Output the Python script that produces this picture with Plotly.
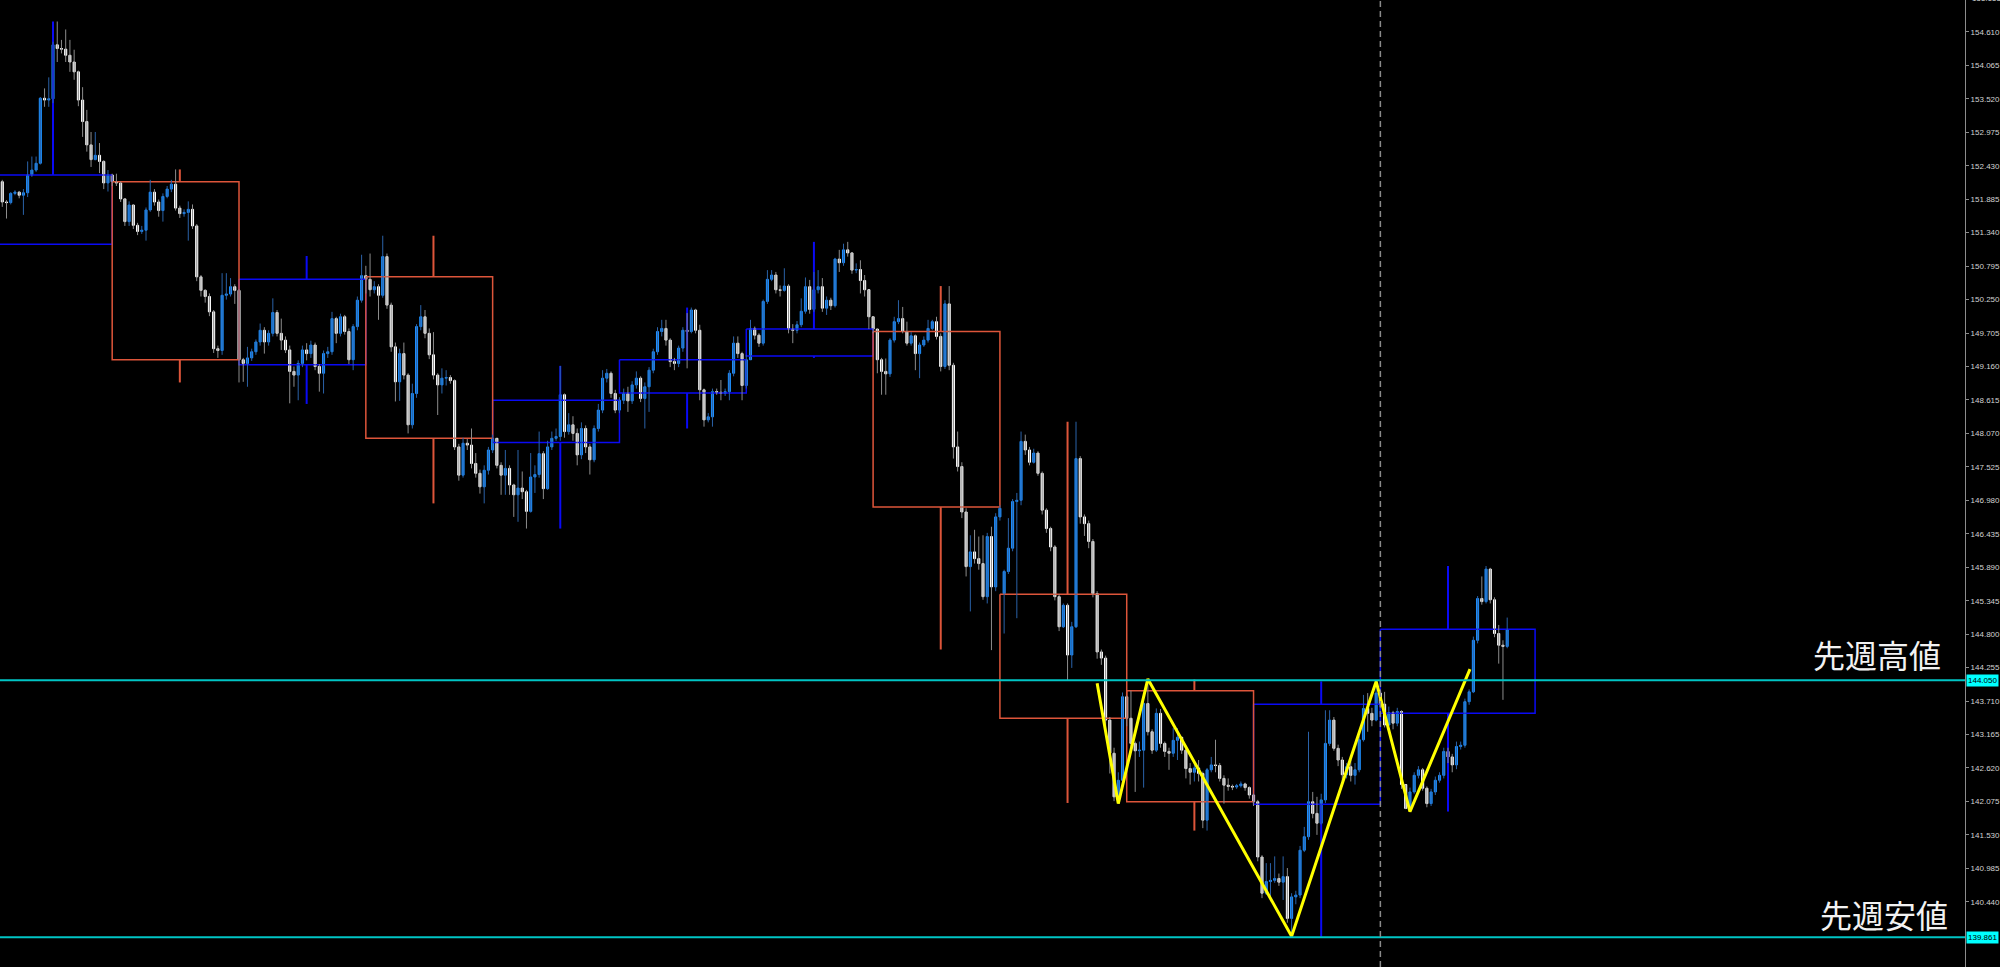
import plotly.graph_objects as go

# ---------------- data (4H bars, index = bar number) ----------------
FIRST_BAR = 2
FIRST_OPEN = 152.25

closes = [
    # week 0
    152.17,151.84,151.83,151.98,152.00,151.95,151.99,152.28,152.36,152.47,153.53,153.50,153.52,154.40,154.34,154.33,154.23,154.12,153.96,153.50,153.15,152.77,152.53,152.60,152.50,152.15,152.28,152.17,
    # week 1
    152.15,151.89,151.52,151.79,151.46,151.36,151.38,151.71,152.00,151.84,151.70,151.93,152.05,152.13,151.74,151.65,151.67,151.72,151.45,150.62,150.40,150.30,150.05,149.45,149.42,150.32,150.34,150.46,150.40,149.27,
    # week 2
    149.21,149.30,149.40,149.56,149.75,149.56,149.70,150.04,149.70,149.59,149.43,149.08,149.02,149.21,149.43,149.37,149.51,149.16,149.05,149.37,149.40,149.94,149.70,149.97,149.73,149.27,149.81,150.24,150.64,150.58,
    # week 3
    150.41,150.46,150.32,150.95,150.16,149.48,148.91,149.37,149.02,148.21,148.72,149.81,149.97,149.70,149.35,149.02,148.86,148.97,148.98,148.93,147.85,147.39,147.91,147.88,147.58,147.42,147.20,147.47,147.80,147.99,
    # week 4
    147.55,147.39,147.50,147.23,147.07,147.18,147.12,146.80,147.36,147.40,147.74,147.17,147.85,147.99,148.02,148.70,148.10,148.21,148.07,147.72,148.15,147.85,147.64,148.15,148.45,148.97,149.05,148.72,148.45,148.61,
    # week 5
    148.72,148.60,148.86,148.97,148.64,148.83,149.10,149.40,149.73,149.78,149.59,149.24,149.21,149.46,149.75,149.73,150.08,149.75,148.78,148.29,148.34,148.75,148.74,148.72,148.75,149.05,149.54,149.37,148.85,149.27,
    # week 6
    149.78,149.67,149.54,150.22,150.58,150.65,150.41,150.40,150.47,149.77,149.75,149.84,150.06,150.46,150.09,150.41,150.46,150.11,150.24,150.15,150.91,150.85,151.06,151.01,150.73,150.74,150.56,150.41,149.97,149.77,
    # week 7
    149.27,149.08,149.04,149.59,149.89,149.94,149.73,149.54,149.66,149.37,149.51,149.59,149.78,149.89,149.65,149.16,150.18,149.18,147.85,147.53,146.79,145.90,146.14,146.03,145.95,145.41,146.39,145.57,146.71,146.85,
    # week 8
    145.82,146.20,146.96,146.98,147.94,147.80,147.60,147.75,147.42,146.82,146.52,146.22,145.41,144.92,145.27,144.46,144.92,147.66,146.71,146.60,146.31,145.46,144.51,144.41,143.40,142.86,142.15,142.42,143.78,143.43,
    # week 9
    143.02,142.90,142.91,143.67,143.21,142.91,143.51,143.02,142.89,142.86,143.07,143.12,142.91,142.61,142.55,142.62,142.53,141.77,142.59,142.67,142.66,142.45,142.34,142.32,142.31,142.33,142.36,142.30,142.18,142.07,
    # week 10
    141.17,140.58,140.77,140.79,140.82,140.76,140.85,140.17,140.52,140.55,141.28,141.50,142.07,141.88,141.72,142.10,143.02,143.40,142.94,142.75,142.51,142.64,142.50,142.59,143.08,143.59,143.51,143.40,143.84,143.66,
    # week 11
    143.32,143.52,143.35,143.54,142.35,141.96,142.23,142.50,142.59,142.29,142.04,142.23,142.42,142.50,142.89,142.80,142.67,142.97,142.99,143.70,143.86,144.70,145.38,145.33,145.86,145.36,144.81,144.62,144.60,144.87,
]

highs = [
    152.30,152.20,151.87,152.00,152.03,152.02,152.05,152.50,152.58,152.58,153.55,153.69,153.87,154.45,154.78,154.48,154.65,154.48,154.32,153.98,153.71,153.34,152.98,152.98,152.80,152.52,152.36,152.30,
    152.30,152.17,151.90,151.85,151.80,151.50,151.45,151.75,152.20,152.05,151.88,151.98,152.10,152.20,152.37,151.78,151.72,151.85,151.80,151.48,150.65,150.42,150.35,150.08,149.50,150.68,150.68,150.60,150.50,150.42,
    149.30,149.48,149.45,149.60,149.86,149.80,149.75,150.27,150.08,149.94,149.65,149.50,149.16,149.26,149.50,149.54,149.58,149.55,149.20,149.42,149.48,150.05,149.97,150.02,150.00,149.78,149.85,150.30,150.98,150.80,
    151.00,150.55,150.50,151.29,151.00,150.20,149.55,149.45,149.55,149.05,148.88,149.85,150.16,150.08,149.78,149.72,149.05,149.13,149.10,149.02,148.95,147.90,148.00,147.98,148.15,147.75,147.48,147.55,147.85,148.05,
    147.95,147.60,147.80,147.55,147.25,147.80,147.45,147.15,147.75,147.55,148.10,147.78,147.95,148.10,148.15,149.17,148.72,148.40,148.35,148.15,148.25,148.20,147.90,148.20,148.55,149.10,149.12,149.08,148.78,148.66,
    148.80,148.83,148.92,149.08,149.00,148.90,149.15,149.45,149.80,149.92,149.92,149.62,149.30,149.50,149.80,150.03,150.12,150.10,149.84,148.80,148.40,148.80,148.80,148.94,148.80,149.10,149.65,149.65,149.40,149.35,
    149.92,149.81,149.70,150.25,150.73,150.73,150.70,150.48,150.76,150.50,149.85,149.90,150.27,150.61,150.57,150.70,150.73,150.60,150.30,150.28,150.93,151.06,151.16,151.19,151.02,150.84,150.89,150.65,150.40,149.98,
    149.75,149.30,149.29,149.62,149.97,150.24,150.13,149.89,149.72,149.68,149.55,149.65,149.92,149.92,149.97,149.70,150.24,150.47,149.22,148.10,147.60,146.85,146.41,146.50,146.39,146.41,146.45,146.55,146.77,146.90,
    145.85,146.69,147.00,147.10,148.10,148.05,147.85,147.82,147.78,147.45,146.85,146.55,146.25,145.45,145.30,145.30,145.00,148.26,147.70,146.75,146.65,146.35,145.50,144.55,144.45,143.45,142.95,142.55,143.85,143.80,
    143.88,143.05,143.05,143.70,144.07,143.25,143.59,143.58,143.05,142.95,143.27,143.27,143.12,142.95,142.70,142.75,142.75,142.56,142.62,142.80,143.08,142.70,142.50,142.45,142.35,142.36,142.40,142.38,142.32,142.20,
    142.10,141.20,141.07,141.07,141.18,140.90,141.18,140.99,140.58,140.62,141.35,141.66,143.21,142.23,142.15,142.20,143.56,143.56,143.45,143.00,142.80,142.70,142.75,142.70,143.15,143.81,143.84,143.60,144.03,143.90,
    143.86,143.62,143.55,143.60,143.56,142.32,142.30,142.55,142.65,142.62,142.32,142.28,142.48,142.55,142.95,142.95,142.85,143.05,143.05,143.75,143.90,144.76,145.42,145.74,145.91,145.88,145.40,144.95,144.70,145.07,
]

lows = [
    152.10,151.76,151.57,151.80,151.95,151.90,151.63,151.92,152.25,152.33,152.45,153.39,153.39,153.45,154.12,154.26,154.12,153.96,153.83,153.40,152.90,152.66,152.41,152.52,152.31,152.05,152.01,152.10,
    152.10,151.84,151.45,151.45,151.40,151.30,151.32,151.21,151.68,151.78,151.60,151.52,151.90,152.00,151.70,151.58,151.60,151.21,151.40,150.55,150.30,150.20,149.98,149.38,149.30,149.35,150.25,150.30,150.18,148.90,
    148.91,148.83,149.25,149.35,149.50,149.37,149.50,149.65,149.65,149.43,149.38,148.56,148.83,148.61,149.15,149.26,149.30,149.10,148.75,148.72,149.30,149.35,149.54,149.65,149.68,149.20,149.10,149.75,150.20,150.35,
    150.30,150.35,149.92,150.28,150.10,149.40,148.59,148.60,148.95,148.07,148.15,148.65,149.75,149.62,149.28,148.95,148.37,148.72,148.85,148.88,147.80,147.30,147.35,147.80,147.50,147.35,147.09,146.93,147.40,147.75,
    147.50,147.07,147.07,147.07,146.71,146.63,147.00,146.52,146.78,147.10,147.35,147.00,147.15,147.80,147.95,147.95,148.00,148.05,147.95,147.55,147.65,147.75,147.40,147.60,148.10,148.40,148.90,148.65,148.40,148.40,
    148.55,148.42,148.55,148.80,148.58,148.15,148.42,149.05,149.35,149.65,149.50,149.15,149.10,149.15,149.40,149.13,149.70,149.70,148.61,148.18,148.25,148.18,148.70,148.61,148.68,148.61,149.00,149.30,148.61,148.80,
    149.30,149.60,149.48,149.50,150.18,150.55,150.35,150.30,150.38,149.70,149.54,149.70,149.80,150.02,150.02,150.05,150.35,150.05,150.00,150.08,150.12,150.70,150.80,150.95,150.67,150.68,150.35,150.30,149.77,149.70,
    149.05,148.70,148.70,148.99,149.55,149.85,149.70,149.50,149.50,149.10,148.97,149.48,149.55,149.75,149.60,149.08,149.12,149.10,147.66,147.45,146.69,145.74,145.17,145.95,145.85,145.36,145.30,144.54,145.50,146.65,
    144.81,145.78,146.15,145.06,146.90,147.72,147.55,147.58,147.38,146.75,146.45,146.15,145.35,144.85,144.90,144.05,144.25,144.90,146.60,146.40,146.20,145.40,144.40,144.30,143.30,142.53,142.08,142.04,142.40,143.30,
    142.95,142.23,142.80,142.30,143.15,142.85,142.88,142.95,142.80,142.59,142.80,142.75,142.85,142.45,142.35,142.40,142.40,141.64,141.60,142.55,142.55,142.40,142.04,142.25,142.26,142.28,142.30,142.25,142.12,142.00,
    141.10,140.50,140.55,140.52,140.75,140.70,140.47,140.10,139.88,140.40,140.50,141.25,141.45,141.80,141.53,141.70,142.05,142.98,142.90,142.65,142.40,142.45,142.40,142.35,142.55,143.05,143.21,143.30,143.38,143.60,
    143.28,143.30,143.25,143.30,142.28,141.95,141.91,142.20,142.45,142.25,141.98,142.00,142.18,142.38,142.45,142.70,142.55,142.60,142.92,142.95,143.65,143.84,144.65,145.28,145.30,145.30,144.75,144.32,143.73,144.57,
]

gap_opens = {240: 145.46}   # bars whose open differs from the previous close

# weekly OHLC (weekly boxes)
week_open  = [151.15, 152.17, 149.19, 150.62, 147.92, 148.73, 149.33, 149.73, 145.45, 143.88, 142.03, 143.51]
week_close = [152.28, 149.27, 150.58, 147.99, 148.61, 149.27, 149.77, 146.87, 143.43, 142.07, 143.66, 144.88]
week_high  = [154.78, 152.37, 150.96, 151.29, 149.17, 150.12, 151.19, 150.47, 148.26, 144.06, 144.03, 145.91]
week_low   = [151.15, 148.90, 148.55, 146.93, 146.52, 148.15, 149.30, 144.55, 142.05, 141.60, 139.87, 141.91]
BARS_PER_WEEK = 30
LAST_BOX_RIGHT = 365.6

# yellow zigzag (bar index, price)
zz_x = [262, 267, 274, 308, 328, 336, 350.2]
zz_y = [144.00, 142.04, 144.07, 139.88, 144.03, 141.91, 144.23]

last_week_high = 144.050
last_week_low = 139.861
label_high = "先週高値"
label_low = "先週安値"
separator_bar = 329

tick_labels = ["155.155", "154.610", "154.065", "153.520", "152.975", "152.430", "151.885",
               "151.340", "150.795", "150.250", "149.705", "149.160", "148.615", "148.070",
               "147.525", "146.980", "146.435", "145.890", "145.345", "144.800", "144.255",
               "143.710", "143.165", "142.620", "142.075", "141.530", "140.985", "140.440"]

# ---------------- build ----------------
n = len(closes)
xs = list(range(FIRST_BAR, FIRST_BAR + n))
opens = [FIRST_OPEN] + closes[:-1]
for b, v in gap_opens.items():
    opens[b - FIRST_BAR] = v
hi = [max(h, o, c) for h, o, c in zip(highs, opens, closes)]
lo = [min(l, o, c) for l, o, c in zip(lows, opens, closes)]

BULL_BODY = "#1E90FF"
BEAR_BODY = "#FFFFFF"
BULL_WICK = "#2a62a8"
BEAR_WICK = "#8c8c8c"
BOX_BLUE = "#0A0AF5"
BOX_RED = "#DD553A"

Y_MIN, Y_MAX = 139.378, 155.13

fig = go.Figure()

# weekly boxes + weekly wicks
for color, cond in ((BOX_BLUE, True), (BOX_RED, False)):
    px, py = [], []
    wx, wy = [], []
    for k in range(len(week_open)):
        o, c = week_open[k], week_close[k]
        if (c >= o) != cond:
            continue
        x0 = BARS_PER_WEEK * k - 1
        x1 = LAST_BOX_RIGHT if k == len(week_open) - 1 else BARS_PER_WEEK * k + BARS_PER_WEEK - 1
        top, bot = max(o, c), min(o, c)
        px += [x0, x1, x1, x0, x0, None]
        py += [top, top, bot, bot, top, None]
        xm = BARS_PER_WEEK * k + 15
        wx += [xm, xm, None, xm, xm, None]
        wy += [top, week_high[k], None, bot, week_low[k], None]
    fig.add_trace(go.Scatter(x=wx, y=wy, mode="lines", line=dict(color=color, width=2),
                             hoverinfo="skip", showlegend=False))
    fig.add_trace(go.Scatter(x=px, y=py, mode="lines", line=dict(color=color, width=1.5),
                             hoverinfo="skip", showlegend=False))

# candle wicks
for color, bull in ((BULL_WICK, True), (BEAR_WICK, False)):
    wx, wy = [], []
    for x, o, c, h, l in zip(xs, opens, closes, hi, lo):
        if (c >= o) != bull:
            continue
        wx += [x, x, None]
        wy += [l, h, None]
    fig.add_trace(go.Scatter(x=wx, y=wy, mode="lines", line=dict(color=color, width=1),
                             hoverinfo="skip", showlegend=False))

# candle bodies
fig.add_trace(go.Candlestick(
    x=xs, open=opens, close=closes,
    high=[max(o, c) for o, c in zip(opens, closes)],
    low=[min(o, c) for o, c in zip(opens, closes)],
    increasing=dict(line=dict(color=BULL_BODY, width=1), fillcolor=BULL_BODY),
    decreasing=dict(line=dict(color=BEAR_BODY, width=1), fillcolor=BEAR_BODY),
    whiskerwidth=0, hoverinfo="skip", showlegend=False))

# zigzag
fig.add_trace(go.Scatter(x=zz_x, y=zz_y, mode="lines", line=dict(color="#FFFF00", width=3),
                         hoverinfo="skip", showlegend=False))

shapes = []
for lvl in (last_week_high, last_week_low):
    shapes.append(dict(type="line", xref="paper", x0=0, x1=1, yref="y", y0=lvl, y1=lvl,
                       line=dict(color="#00C4C4", width=2), layer="above"))
shapes.append(dict(type="line", xref="x", x0=separator_bar, x1=separator_bar, yref="paper", y0=0, y1=1,
                   line=dict(color="#8a8a8a", width=1.5, dash="6px,4px"), layer="above"))

PLOT_W = 1965
annotations = [
    dict(text=label_high, xref="paper", x=1943 / PLOT_W, xanchor="right", yref="y", y=last_week_high,
         yanchor="bottom", yshift=1, showarrow=False,
         font=dict(family="Noto Sans CJK JP", size=32, color="#F2F2F2")),
    dict(text=label_low, xref="paper", x=1950 / PLOT_W, xanchor="right", yref="y", y=last_week_low,
         yanchor="bottom", yshift=-2, showarrow=False,
         font=dict(family="Noto Sans CJK JP", size=32, color="#F2F2F2")),
]
for lvl in (last_week_high, last_week_low):
    annotations.append(dict(text=f"{lvl:.3f}", xref="paper", x=1, xanchor="left", xshift=1,
                            yref="y", y=lvl, yanchor="middle", showarrow=False,
                            bgcolor="#00FFFF", borderpad=1,
                            font=dict(family="Liberation Sans", size=8, color="#000000")))
# the top tick label lies just beyond the visible range and is cut by the window edge
for t in tick_labels:
    if float(t) > Y_MAX:
        annotations.append(dict(text=t, xref="paper", x=1, xanchor="left", xshift=5,
                                yref="paper", y=(float(t) - Y_MIN) / (Y_MAX - Y_MIN),
                                yanchor="middle", showarrow=False,
                                font=dict(family="Liberation Sans", size=8, color="#d2d2d2")))

fig.update_layout(
    width=2000, height=967,
    margin=dict(l=0, r=2000 - PLOT_W, t=0, b=0),
    paper_bgcolor="#000000", plot_bgcolor="#000000",
    showlegend=False, hovermode=False,
    shapes=shapes, annotations=annotations,
    xaxis=dict(range=[2.46, 467.3], visible=False, showgrid=False, zeroline=False,
               rangeslider=dict(visible=False)),
    yaxis=dict(range=[Y_MIN, Y_MAX], side="right", showgrid=False, zeroline=False,
               tickvals=[float(t) for t in tick_labels], ticktext=tick_labels,
               showline=True, linecolor="#8c8c8c", linewidth=1,
               ticks="outside", ticklen=3, tickcolor="#8c8c8c",
               tickfont=dict(family="Liberation Sans", size=8, color="#d2d2d2")),
)

fig.write_html("out.html", config={"displayModeBar": False},
               post_script="document.body.style.margin='0';document.body.style.background='#000';")
